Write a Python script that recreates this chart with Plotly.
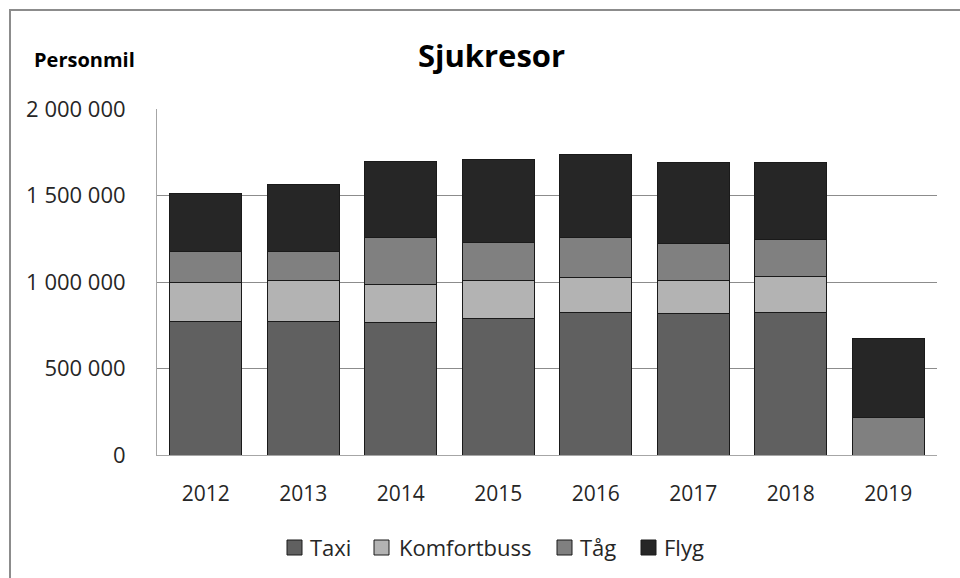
import plotly.graph_objects as go

years = ["2012", "2013", "2014", "2015", "2016", "2017", "2018", "2019"]
taxi = [773000, 773000, 767000, 788000, 825000, 819000, 825000, 0]
komfortbuss = [223000, 238000, 221000, 223000, 200000, 192000, 208000, 0]
tag = [183000, 168000, 271000, 220000, 234000, 214000, 213000, 219000]
flyg = [334000, 386000, 437000, 475000, 478000, 467000, 446000, 452000]

series = [
    ("Taxi", taxi, "#606060"),
    ("Komfortbuss", komfortbuss, "#b3b3b3"),
    ("Tåg", tag, "#808080"),
    ("Flyg", flyg, "#262626"),
]

FONT = "Open Sans"
W, H = 960, 578
ML, MR, MT, MB = 157, 23, 109, 123
PW, PH = W - ML - MR, H - MT - MB


def px_x(p):
    return (p - ML) / PW


def px_y(p):
    return (H - MB - p) / PH


fig = go.Figure()
for name, vals, col in series:
    fig.add_trace(go.Bar(
        x=years, y=vals, name=name, showlegend=False,
        marker=dict(color=col, line=dict(color="#1a1a1a", width=1)),
    ))

fig.update_layout(
    barmode="stack",
    bargap=0.26,
    width=W, height=H,
    margin=dict(l=ML, r=MR, t=MT, b=MB),
    paper_bgcolor="white", plot_bgcolor="white",
    separators=", ",
    font=dict(family=FONT, size=21, color="#262626"),
    title=dict(text="<b>Sjukresor</b>", x=0.512, xanchor="center", y=0.903, yanchor="middle",
               font=dict(size=31, family=FONT, color="#000000")),
)
fig.update_yaxes(
    range=[0, 2000000], dtick=500000, tickformat=",d",
    showgrid=True, gridcolor="#8c8c8c", gridwidth=1,
    showline=True, linecolor="#a6a6a6", linewidth=1,
    ticks="", ticklabelstandoff=26, zeroline=False,
    tickfont=dict(size=22),
)
fig.update_xaxes(
    showline=True, linecolor="#a6a6a6", linewidth=1, ticks="",
    ticklabelstandoff=20,
)
fig.add_annotation(text="<b>Personmil</b>", xref="paper", yref="paper",
                   x=px_x(32), y=px_y(60), xanchor="left", yanchor="middle", showarrow=False,
                   font=dict(size=20, family=FONT, color="#000000"))
fig.add_shape(type="rect", xref="paper", yref="paper", x0=px_x(10), y0=-0.6, x1=1.2, y1=px_y(10),
              line=dict(color="#8c8c8c", width=2), fillcolor="rgba(0,0,0,0)", layer="below")

# custom legend
legend_sq = [287, 374, 557, 641]
legend_tx = [308, 397, 578, 662]
for (name, vals, col), sq, tx in zip(series, legend_sq, legend_tx):
    fig.add_shape(type="rect", xref="paper", yref="paper",
                  x0=px_x(sq), x1=px_x(sq + 15), y0=px_y(555), y1=px_y(540),
                  fillcolor=col, line=dict(color="#1a1a1a", width=1))
    fig.add_annotation(text=name, xref="paper", yref="paper", x=px_x(tx), y=px_y(547),
                       xanchor="left", yanchor="middle", showarrow=False,
                       font=dict(size=22, family=FONT, color="#262626"))

fig.write_html("out.html", config={"displayModeBar": False},
               post_script="document.body.style.margin='0';")
